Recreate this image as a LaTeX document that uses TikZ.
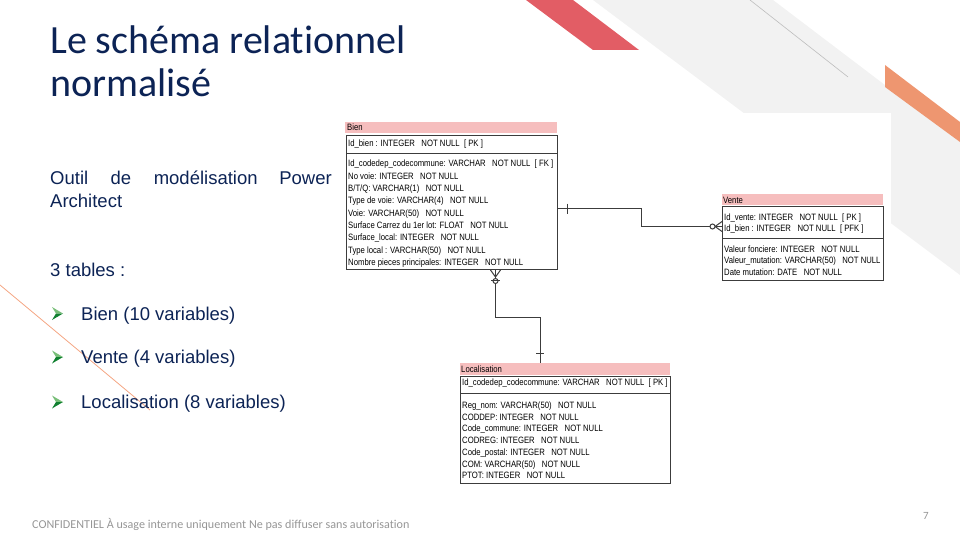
\documentclass[tikz,border=0pt]{standalone}
\usepackage{fontspec}
\setmainfont{Liberation Sans}
\newfontfamily\titlefont[Ligatures=NoCommon]{Carlito}
\newfontfamily\tablefont[FakeStretch=0.84]{Liberation Sans}
\usetikzlibrary{calc}

\definecolor{navy}{RGB}{12,35,85}
\definecolor{bandgray}{RGB}{242,242,242}
\definecolor{bandred}{RGB}{226,93,101}
\definecolor{bandorange}{RGB}{238,150,112}
\definecolor{thingray}{RGB}{190,190,190}
\definecolor{accentorange}{RGB}{244,165,130}
\definecolor{headpink}{RGB}{246,190,190}
\definecolor{boxline}{RGB}{60,60,60}
\definecolor{footgray}{RGB}{150,150,150}
\definecolor{bulletlight}{RGB}{120,190,120}
\definecolor{bulletdark}{RGB}{16,128,48}

\tikzset{
  titletext/.style={anchor=base west, inner sep=0, text=navy,
    font=\titlefont\fontsize{40}{44}\selectfont},
  bodytext/.style={anchor=base west, inner sep=0, text=navy,
    font=\fontsize{18.5}{22}\selectfont},
  thead/.style={fill=headpink, inner sep=0, anchor=north west},
  tbox/.style={draw=boxline, line width=1pt, inner sep=0, anchor=north west},
  sepline/.style={draw=boxline, line width=1pt},
  rowtext/.style={anchor=base west, inner sep=0, text=black,
    font=\tablefont\fontsize{9.2}{10}\selectfont},
  conn/.style={draw=boxline, line width=1pt},
  arrowbullet/.pic={
    \fill[bulletlight] (0,0) -- (-11,-6.5) -- (-7,0) -- cycle;
    \fill[bulletdark] (0,0) -- (-11,6.5) -- (-7,0) -- cycle;
  }
}

\begin{document}
\begin{tikzpicture}[x=1pt,y=-1pt]
\useasboundingbox (0,0) rectangle (960,540);

% decorative bands in the upper right corner
\fill[bandgray] (593,0) -- (773,0) -- (960,142) -- (960,275) -- cycle;
\fill[white] (340,113) rectangle (891,490);
\fill[bandred] (526,0) -- (573,0) -- (639,50) -- (593,50) -- cycle;
\fill[bandorange] (885,65) -- (960,122) -- (960,142) -- (885,87) -- cycle;
\draw[thingray, line width=0.6pt] (750,0) -- (848,77);
\draw[accentorange, line width=0.8pt] (0,285) -- (150,410);

% title
\node[titletext] (title1) at (50,53.3) {Le schéma relationnel};
\node[titletext] (title2) at (50,96.7) {normalisé};

% left column text (first line justified)
\node[bodytext] (w1) at (50,185) {Outil};
\node[bodytext] (w2) at (110.4,185) {de};
\node[bodytext] (w3) at (153.6,185) {modélisation};
\node[bodytext, anchor=base east] (w4) at (332,185) {Power};
\node[bodytext] (w5) at (50,207.5) {Architect};
\node[bodytext] (tables) at (50,276.5) {3 tables :};

\pic at (63,313.5) {arrowbullet};
\node[bodytext] (item1) at (81,320) {Bien (10 variables)};
\pic at (63,357) {arrowbullet};
\node[bodytext] (item2) at (81,363.3) {Vente (4 variables)};
\pic at (63,402) {arrowbullet};
\node[bodytext] (item3) at (81,408.3) {Localisation (8 variables)};

% table Bien
\node[thead, minimum width=212pt, minimum height=11pt] (bienhead) at (345,122) {};
\node[rowtext] (bientitle) at (347,131) {Bien};
\node[tbox, minimum width=211pt, minimum height=134pt] (bien) at (346,135) {};
\draw[sepline] (bien.west |- 0,154) -- (bien.east |- 0,154);
\node[rowtext] (bienpk) at (348,147) {Id\_bien : INTEGER\ \ \ NOT NULL\ \ [ PK ]};
\foreach \t [count=\i] in {
  {Id\_codedep\_codecommune: VARCHAR\ \ \ NOT NULL\ \ [ FK ]},
  {No voie: INTEGER\ \ \ NOT NULL},
  {B/T/Q: VARCHAR(1)\ \ \ NOT NULL},
  {Type de voie: VARCHAR(4)\ \ \ NOT NULL},
  {Voie: VARCHAR(50)\ \ \ NOT NULL},
  {Surface Carrez du 1er lot: FLOAT\ \ \ NOT NULL},
  {Surface\_local: INTEGER\ \ \ NOT NULL},
  {Type local : VARCHAR(50)\ \ \ NOT NULL},
  {Nombre pieces principales: INTEGER\ \ \ NOT NULL}}
  \node[rowtext] (bienrow\i) at (348,154.7+12.3*\i) {\t};

% table Vente
\node[thead, minimum width=161pt, minimum height=11pt] (ventehead) at (722,194) {};
\node[rowtext] (ventetitle) at (723,203) {Vente};
\node[tbox, minimum width=161pt, minimum height=74pt] (vente) at (722,206) {};
\draw[sepline] (vente.west |- 0,238) -- (vente.east |- 0,238);
\node[rowtext] (ventepk1) at (724,220) {Id\_vente: INTEGER\ \ \ NOT NULL\ \ [ PK ]};
\node[rowtext] (ventepk2) at (724,231.5) {Id\_bien : INTEGER\ \ \ NOT NULL\ \ [ PFK ]};
\foreach \t [count=\i] in {
  {Valeur fonciere: INTEGER\ \ \ NOT NULL},
  {Valeur\_mutation: VARCHAR(50)\ \ \ NOT NULL},
  {Date mutation: DATE\ \ \ NOT NULL}}
  \node[rowtext] (venterow\i) at (724,240.5+11.5*\i) {\t};

% table Localisation
\node[thead, minimum width=210pt, minimum height=12pt] (lochead) at (460,363) {};
\node[rowtext] (loctitle) at (461,372.5) {Localisation};
\node[tbox, minimum width=210pt, minimum height=107pt] (loc) at (460,376) {};
\draw[sepline] (loc.west |- 0,393) -- (loc.east |- 0,393);
\node[rowtext] (locpk) at (462,385.5) {Id\_codedep\_codecommune: VARCHAR\ \ \ NOT NULL\ \ [ PK ]};
\foreach \t [count=\i] in {
  {Reg\_nom: VARCHAR(50)\ \ \ NOT NULL},
  {CODDEP: INTEGER\ \ \ NOT NULL},
  {Code\_commune: INTEGER\ \ \ NOT NULL},
  {CODREG: INTEGER\ \ \ NOT NULL},
  {Code\_postal: INTEGER\ \ \ NOT NULL},
  {COM: VARCHAR(50)\ \ \ NOT NULL},
  {PTOT: INTEGER\ \ \ NOT NULL}}
  \node[rowtext] (locrow\i) at (462,396.8+11.7*\i) {\t};

% relationship Bien -> Vente
\coordinate (bv-a) at ([yshift=-6pt]bien.east);
\coordinate (bv-b) at ([yshift=17pt]vente.west);
\draw[conn] (bv-a) -- ++(83,0) |- (bv-b);
\draw[conn] ($(bv-a)+(9,-5)$) -- ++(0,10);
\draw[conn] ($(bv-b)+(-7,0)$) -- ($(bv-b)+(0,-5)$)
            ($(bv-b)+(-7,0)$) -- ($(bv-b)+(0,5)$);
\draw[conn, fill=white] ($(bv-b)+(-9.5,0)$) circle[radius=2.5pt];

% relationship Localisation -> Bien
\coordinate (bl-a) at ([xshift=43.5pt]bien.south);
\coordinate (bl-b) at ([xshift=-25pt]lochead.north);
\draw[conn] (bl-a) -- ++(0,47) -| (bl-b);
\draw[conn] ($(bl-b)+(-4,-10)$) -- ++(8,0);
\draw[conn] ($(bl-a)+(0,7)$) -- ($(bl-a)+(-5,0)$)
            ($(bl-a)+(0,7)$) -- ($(bl-a)+(5,0)$);
\draw[conn, fill=white] ($(bl-a)+(0,11)$) circle[radius=2.5pt];
\draw[conn] ($(bl-a)+(-4.5,10)$) -- ++(9,0);

% footer
\node[anchor=base west, inner sep=0, text=footgray,
  font=\titlefont\fontsize{12.1}{13}\selectfont] (footer) at (32,528)
  {CONFIDENTIEL À usage interne uniquement Ne pas diffuser sans autorisation};
\node[anchor=base west, inner sep=0, text=footgray,
  font=\titlefont\fontsize{11}{13}\selectfont] (pagenum) at (923,519) {7};
\end{tikzpicture}
\end{document}
